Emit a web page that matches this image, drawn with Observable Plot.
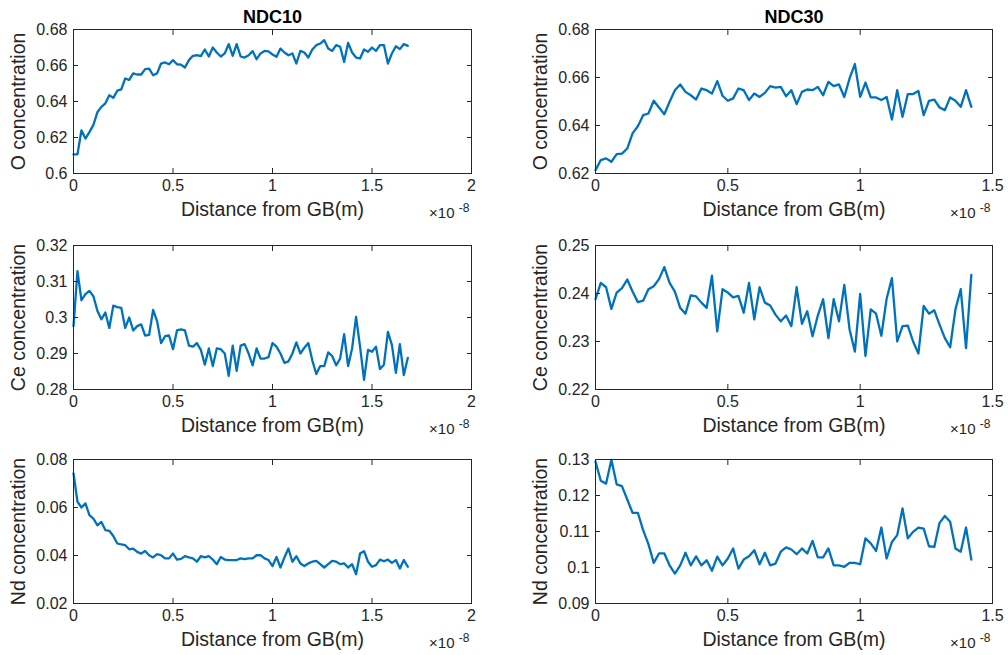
<!DOCTYPE html>
<html>
<head>
<meta charset="utf-8">
<script src="https://cdn.jsdelivr.net/npm/d3@7"></script>
<script src="https://cdn.jsdelivr.net/npm/@observablehq/plot@0.6"></script>
<style>
  html, body { margin: 0; padding: 0; background: #fff; }
  #fig { position: relative; width: 1008px; height: 655px; overflow: hidden; }
</style>
</head>
<body>
<div id="fig"></div>
<script>
// Concentration profiles measured away from the grain boundary (GB),
// sampled every 0.2 nm along the profile.
const stepMetres = 2e-10;

// NDC10
const ndc10O = [
  0.6106, 0.6106, 0.6240, 0.6194, 0.6230, 0.6270, 0.6340, 0.6370, 0.6390, 0.6435,
  0.6420, 0.6460, 0.6467, 0.6528, 0.6520, 0.6556, 0.6550, 0.6550, 0.6580, 0.6583,
  0.6546, 0.6556, 0.6611, 0.6617, 0.6607, 0.6630, 0.6607, 0.6605, 0.6589, 0.6630,
  0.6654, 0.6657, 0.6652, 0.6689, 0.6650, 0.6700, 0.6672, 0.6650, 0.6667, 0.6719,
  0.6654, 0.6719, 0.6650, 0.6644, 0.6657, 0.6680, 0.6635, 0.6667, 0.6681, 0.6678,
  0.6661, 0.6648, 0.6694, 0.6672, 0.6657, 0.6667, 0.6611, 0.6681, 0.6672, 0.6644,
  0.6689, 0.6713, 0.6722, 0.6741, 0.6694, 0.6681, 0.6713, 0.6704, 0.6620, 0.6726,
  0.6672, 0.6644, 0.6639, 0.6689, 0.6676, 0.6700, 0.6681, 0.6713, 0.6713, 0.6611,
  0.6667, 0.6707, 0.6691, 0.6719, 0.6709
];
const ndc10Ce = [
  0.2976, 0.3129, 0.3048, 0.3065, 0.3074, 0.3059, 0.3019, 0.2995, 0.3014, 0.2971,
  0.3033, 0.3029, 0.3027, 0.2971, 0.3000, 0.2964, 0.2976, 0.2981, 0.2950, 0.2952,
  0.3021, 0.2990, 0.2929, 0.2948, 0.2950, 0.2912, 0.2964, 0.2967, 0.2964, 0.2922,
  0.2919, 0.2929, 0.2910, 0.2869, 0.2914, 0.2865, 0.2914, 0.2912, 0.2900, 0.2838,
  0.2922, 0.2852, 0.2922, 0.2926, 0.2900, 0.2867, 0.2914, 0.2886, 0.2886, 0.2890,
  0.2929, 0.2919, 0.2900, 0.2874, 0.2878, 0.2900, 0.2931, 0.2900, 0.2916, 0.2929,
  0.2881, 0.2843, 0.2865, 0.2865, 0.2903, 0.2893, 0.2867, 0.2886, 0.2954, 0.2865,
  0.2914, 0.3002, 0.2919, 0.2827, 0.2910, 0.2905, 0.2919, 0.2857, 0.2869, 0.2960,
  0.2924, 0.2846, 0.2926, 0.2840, 0.2888
];
const ndc10Nd = [
  0.0742, 0.0624, 0.0600, 0.0617, 0.0568, 0.0554, 0.0526, 0.0540, 0.0506, 0.0503,
  0.0481, 0.0450, 0.0446, 0.0443, 0.0426, 0.0429, 0.0415, 0.0408, 0.0419, 0.0401,
  0.0392, 0.0406, 0.0401, 0.0388, 0.0388, 0.0408, 0.0383, 0.0386, 0.0397, 0.0392,
  0.0388, 0.0374, 0.0397, 0.0392, 0.0397, 0.0383, 0.0364, 0.0394, 0.0383, 0.0381,
  0.0381, 0.0381, 0.0388, 0.0385, 0.0388, 0.0388, 0.0401, 0.0401, 0.0388, 0.0381,
  0.0356, 0.0394, 0.0350, 0.0392, 0.0429, 0.0374, 0.0397, 0.0367, 0.0356, 0.0367,
  0.0374, 0.0378, 0.0364, 0.0350, 0.0364, 0.0378, 0.0374, 0.0364, 0.0367, 0.0350,
  0.0364, 0.0322, 0.0408, 0.0418, 0.0374, 0.0353, 0.0360, 0.0383, 0.0376, 0.0383,
  0.0369, 0.0381, 0.0346, 0.0381, 0.0353
];

// NDC30
const ndc30O = [
  0.6214, 0.6256, 0.6263, 0.6249, 0.6281, 0.6283, 0.6304, 0.6367, 0.6397, 0.6443,
  0.6450, 0.6503, 0.6475, 0.6447, 0.6499, 0.6547, 0.6571, 0.6540, 0.6526, 0.6508,
  0.6554, 0.6547, 0.6533, 0.6585, 0.6524, 0.6503, 0.6513, 0.6554, 0.6547, 0.6506,
  0.6533, 0.6519, 0.6536, 0.6564, 0.6558, 0.6561, 0.6522, 0.6547, 0.6489, 0.6540,
  0.6550, 0.6547, 0.6561, 0.6526, 0.6582, 0.6564, 0.6571, 0.6519, 0.6596, 0.6656,
  0.6519, 0.6579, 0.6517, 0.6517, 0.6506, 0.6519, 0.6425, 0.6547, 0.6436, 0.6531,
  0.6531, 0.6544, 0.6443, 0.6503, 0.6508, 0.6475, 0.6464, 0.6517, 0.6503, 0.6478,
  0.6547, 0.6478
];
const ndc30Ce = [
  0.2388, 0.2422, 0.2413, 0.2368, 0.2402, 0.2411, 0.2429, 0.2404, 0.2382, 0.2385,
  0.2409, 0.2415, 0.2430, 0.2455, 0.2422, 0.2404, 0.2370, 0.2358, 0.2396, 0.2394,
  0.2381, 0.2370, 0.2437, 0.2321, 0.2409, 0.2402, 0.2392, 0.2395, 0.2360, 0.2422,
  0.2346, 0.2413, 0.2381, 0.2375, 0.2356, 0.2342, 0.2354, 0.2332, 0.2413, 0.2337,
  0.2363, 0.2311, 0.2354, 0.2388, 0.2307, 0.2388, 0.2342, 0.2418, 0.2325, 0.2279,
  0.2399, 0.2270, 0.2367, 0.2358, 0.2312, 0.2389, 0.2432, 0.2300, 0.2332, 0.2333,
  0.2300, 0.2275, 0.2374, 0.2358, 0.2365, 0.2335, 0.2307, 0.2288, 0.2367, 0.2409,
  0.2286, 0.2439
];
const ndc30Nd = [
  0.1294, 0.1241, 0.1233, 0.1299, 0.1231, 0.1226, 0.1189, 0.1152, 0.1152, 0.1104,
  0.1065, 0.1013, 0.1039, 0.1039, 0.1006, 0.0983, 0.1006, 0.1041, 0.1006, 0.1031,
  0.1006, 0.1020, 0.0991, 0.1030, 0.1006, 0.1025, 0.1053, 0.0997, 0.1022, 0.1031,
  0.1048, 0.1009, 0.1041, 0.1006, 0.1011, 0.1044, 0.1056, 0.1050, 0.1037, 0.1053,
  0.1039, 0.1074, 0.1028, 0.1028, 0.1053, 0.1006, 0.1006, 0.1002, 0.1013, 0.1013,
  0.1009, 0.1081, 0.1067, 0.1046, 0.1111, 0.1025, 0.1071, 0.1090, 0.1164, 0.1081,
  0.1099, 0.1111, 0.1108, 0.1059, 0.1057, 0.1124, 0.1143, 0.1127, 0.1053, 0.1044,
  0.1111, 0.1022
];

// Axis ticks (distance ticks are in units of 1e-8 m)
const titles = ["NDC10", "NDC30"];
const xTicks10 = [0, 0.5, 1, 1.5, 2];
const xTicks30 = [0, 0.5, 1, 1.5];
const elements = ["O", "Ce", "Nd"];
const yTicks10 = [[0.6, 0.62, 0.64, 0.66, 0.68], [0.28, 0.29, 0.3, 0.31, 0.32], [0.02, 0.04, 0.06, 0.08]];
const yTicks30 = [[0.62, 0.64, 0.66, 0.68], [0.22, 0.23, 0.24, 0.25], [0.09, 0.1, 0.11, 0.12, 0.13]];
const xLabel = "Distance from GB(m)";
const exponent = "-8";

const AXIS = "#262626";
const LINE = "#0072BD";
const FONT = "'Liberation Sans', Arial, Helvetica, sans-serif";
const TICK_FONT = 16;
const LABEL_FONT = 19.5;

const columns = [
  {title: titles[0], series: [ndc10O, ndc10Ce, ndc10Nd], xTicks: xTicks10, yTicks: yTicks10,
   left: 0, width: 504, marginLeft: 73, marginRight: 33},
  {title: titles[1], series: [ndc30O, ndc30Ce, ndc30Nd], xTicks: xTicks30, yTicks: yTicks30,
   left: 504, width: 504, marginLeft: 91, marginRight: 16}
];
const rows = [
  {top: 0, marginTop: 29},
  {top: 215, marginTop: 30},
  {top: 430, marginTop: 29}
];
const rowHeight = 215;
const frameHeight = 144;

const fig = document.getElementById("fig");
const trim = (v) => String(+v.toFixed(4));

columns.forEach((col) => {
  rows.forEach((row, r) => {
    const data = col.series[r].map((c, i) => ({d: i * stepMetres, c}));
    const xt = col.xTicks.map((t) => t * 1e-8);
    const yt = col.yTicks[r];
    const marks = [
      Plot.line(data, {x: "d", y: "c", stroke: LINE, strokeWidth: 2.3, strokeLinejoin: "round"}),
      Plot.frame({stroke: AXIS, strokeWidth: 1}),
      Plot.axisX({anchor: "bottom", ticks: xt, tickFormat: (v) => trim(v / 1e-8), tickSize: -5,
                  tickPadding: 11, fontSize: TICK_FONT, label: null, stroke: AXIS}),
      Plot.axisX({anchor: "top", ticks: xt, tickFormat: () => "", tickSize: -5, label: null, stroke: AXIS}),
      Plot.axisY({anchor: "left", ticks: yt, tickFormat: trim, tickSize: -5, tickPadding: 11,
                  fontSize: TICK_FONT, label: null, stroke: AXIS}),
      Plot.axisY({anchor: "right", ticks: yt, tickFormat: () => "", tickSize: -5, label: null, stroke: AXIS}),
      Plot.text([xLabel], {frameAnchor: "bottom", dy: 42, fontSize: LABEL_FONT, fill: AXIS}),
      Plot.text([`${elements[r]} concentration`], {frameAnchor: "left", textAnchor: "middle",
                  rotate: -90, dx: -55, fontSize: LABEL_FONT, fill: AXIS}),
      Plot.text(["\u00d710"], {frameAnchor: "bottom-right", textAnchor: "end", dx: -17, dy: 44,
                  fontSize: 15, fill: AXIS}),
      Plot.text([exponent], {frameAnchor: "bottom-right", textAnchor: "end", dx: -2, dy: 38,
                  fontSize: 12, fill: AXIS})
    ];
    if (r === 0) {
      marks.push(Plot.text([col.title], {frameAnchor: "top", dy: -19, fontSize: 18,
                  fontWeight: "bold", fill: "#000"}));
    }
    const svg = Plot.plot({
      width: col.width,
      height: rowHeight,
      marginLeft: col.marginLeft,
      marginRight: col.marginRight,
      marginTop: row.marginTop,
      marginBottom: rowHeight - row.marginTop - frameHeight,
      x: {type: "linear", domain: [0, xt[xt.length - 1]]},
      y: {type: "linear", domain: [yt[0], yt[yt.length - 1]]},
      style: {position: "absolute", left: col.left + "px", top: row.top + "px",
              background: "transparent", color: AXIS, fontFamily: FONT, overflow: "visible"},
      marks
    });
    fig.appendChild(svg);
  });
});
</script>
</body>
</html>
